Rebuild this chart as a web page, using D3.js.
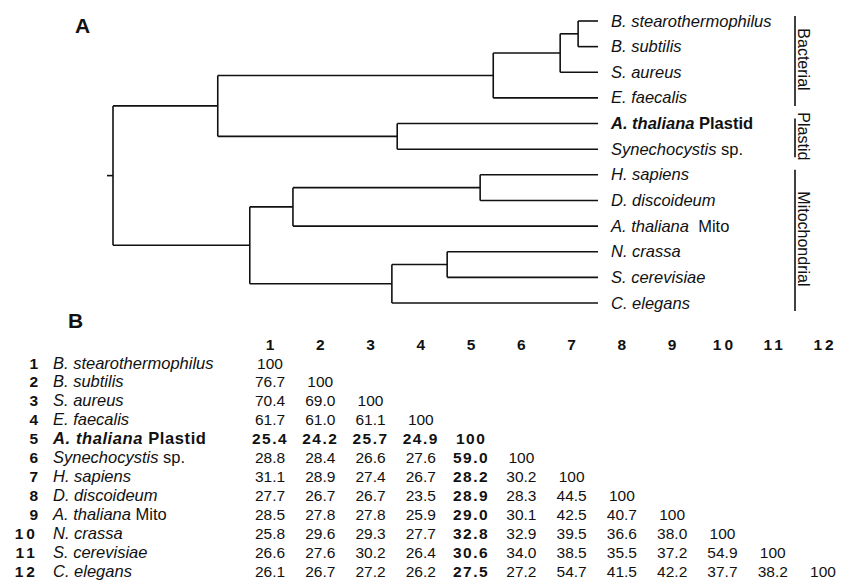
<!DOCTYPE html>
<html>
<head>
<meta charset="utf-8">
<script src="https://cdn.jsdelivr.net/npm/d3@7"></script>
<style>
  body { margin: 0; background: #fff; }
  text { font-family: "Liberation Sans", Arial, Helvetica, sans-serif; fill: #111; }
</style>
</head>
<body>
<div id="chart"></div>
<script>

// taxa: italic part of the name and the plain suffix
var taxaItalic = ["B. stearothermophilus", "B. subtilis", "S. aureus", "E. faecalis",
    "A. thaliana", "Synechocystis", "H. sapiens", "D. discoideum",
    "A. thaliana", "N. crassa", "S. cerevisiae", "C. elegans"];
var taxaSuffix = ["", "", "", "", "Plastid", "sp.", "", "", "Mito", "", "", ""];
var highlight = 4; // A. thaliana Plastid

// tree: h = distance from root (leaves = 100), leaf = index in taxa
var tree = {h: 0, children: [
    {h: 21.6, children: [
        {h: 78.4, children: [
            {h: 92.2, children: [
                {h: 95.9, children: [{leaf: 0}, {leaf: 1}]},
                {leaf: 2}]},
            {leaf: 3}]},
        {h: 58.6, children: [{leaf: 4}, {leaf: 5}]}]},
    {h: 28.2, children: [
        {h: 37.1, children: [
            {h: 75.7, children: [{leaf: 6}, {leaf: 7}]},
            {leaf: 8}]},
        {h: 57.5, children: [
            {h: 68.9, children: [{leaf: 9}, {leaf: 10}]},
            {leaf: 11}]}]}
]};

var groupNames = ["Bacterial", "Plastid", "Mitochondrial"];
var groupFirst = [0, 4, 6];
var groupLast = [3, 5, 11];

// identity matrix (lower triangle, row by row)
var identity = [
    [100],
    [76.7, 100],
    [70.4, 69.0, 100],
    [61.7, 61.0, 61.1, 100],
    [25.4, 24.2, 25.7, 24.9, 100],
    [28.8, 28.4, 26.6, 27.6, 59.0, 100],
    [31.1, 28.9, 27.4, 26.7, 28.2, 30.2, 100],
    [27.7, 26.7, 26.7, 23.5, 28.9, 28.3, 44.5, 100],
    [28.5, 27.8, 27.8, 25.9, 29.0, 30.1, 42.5, 40.7, 100],
    [25.8, 29.6, 29.3, 27.7, 32.8, 32.9, 39.5, 36.6, 38.0, 100],
    [26.6, 27.6, 30.2, 26.4, 30.6, 34.0, 38.5, 35.5, 37.2, 54.9, 100],
    [26.1, 26.7, 27.2, 26.2, 27.5, 27.2, 54.7, 41.5, 42.2, 37.7, 38.2, 100]
];
var colLabels = ["1", "2", "3", "4", "5", "6", "7", "8", "9", "10", "11", "12"];

var width = 842;
var height = 581;

var svg = d3.select('#chart')
    .append('svg')
        .attr('width', width)
        .attr('height', height);

/** Panel A: tree */
var root = d3.hierarchy(tree);

var x = d3.scaleLinear()
    .domain([0, 100])
    .range([113, 598]);

var y = d3.scalePoint()
    .domain(d3.range(taxaItalic.length))
    .range([21, 303]);

// leaf y from scale, internal nodes at middle of first and last child
root.eachAfter(function(n) {
    if (n.children) {
        n.px = x(n.data.h);
        n.py = (n.children[0].py + n.children[n.children.length - 1].py) / 2;
    } else {
        n.px = x(100);
        n.py = y(n.data.leaf);
    }
});

var treeG = svg.append('g')
    .attr('fill', 'none')
    .attr('stroke', '#111')
    .attr('stroke-width', 1.6);

var line = d3.line();

root.descendants().filter(function(n) { return n.children; }).forEach(function(n) {
    var first = n.children[0];
    var last = n.children[n.children.length - 1];
    treeG.append('path')
        .attr('d', line([[n.px, first.py], [n.px, last.py]]));
    n.children.forEach(function(c) {
        treeG.append('path')
            .attr('d', line([[n.px, c.py], [c.px, c.py]]));
    });
});

// root stub
treeG.append('path')
    .attr('d', line([[root.px - 6, root.py], [root.px, root.py]]));

// leaf labels
var leafText = svg.append('g')
    .selectAll('text')
    .data(root.leaves())
    .enter().append('text')
        .attr('x', 611)
        .attr('y', function(d) { return d.py + 5.5; })
        .attr('font-size', 16.5)
        .attr('font-weight', function(d) { return d.data.leaf === highlight ? 'bold' : null; });

leafText.append('tspan')
    .attr('font-style', 'italic')
    .text(function(d) { return taxaItalic[d.data.leaf]; });

leafText.append('tspan')
    .text(function(d) {
        var s = taxaSuffix[d.data.leaf];
        if (!s) return '';
        return (d.data.leaf === 8 ? '\u00a0 ' : ' ') + s;
    });

// group brackets
groupNames.forEach(function(g, i) {
    var y0 = y(groupFirst[i]) - 5;
    var y1 = y(groupLast[i]) + 8;
    treeG.append('path')
        .attr('d', line([[795, y0], [795, y1]]));
    var ym = (y(groupFirst[i]) + y(groupLast[i])) / 2;
    svg.append('text')
        .attr('transform', 'translate(798,' + ym + ') rotate(90)')
        .attr('text-anchor', 'middle')
        .attr('font-size', 16)
        .text(g);
});

svg.append('text')
    .attr('x', 75)
    .attr('y', 33)
    .attr('font-size', 21)
    .attr('font-weight', 'bold')
    .text('A');

/** Panel B: identity table */
svg.append('text')
    .attr('x', 68)
    .attr('y', 328)
    .attr('font-size', 21)
    .attr('font-weight', 'bold')
    .text('B');

var col = d3.scalePoint()
    .domain(d3.range(12))
    .range([270, 823]);

var row = d3.scalePoint()
    .domain(d3.range(12))
    .range([363, 571]);

var fmt = function(v) { return v === 100 ? '100' : d3.format('.1f')(v); };

var table = svg.append('g')
    .attr('font-size', 15.5);

table.selectAll('.colhead')
    .data(colLabels)
    .enter().append('text')
        .attr('class', 'colhead')
        .attr('x', function(d, i) { return col(i) + (d.length > 1 ? 2 : 0); })
        .attr('y', 350)
        .attr('text-anchor', 'middle')
        .attr('font-weight', 'bold')
        .attr('letter-spacing', function(d) { return d.length > 1 ? 3 : 0; })
        .text(function(d) { return d; });

table.selectAll('.rownum')
    .data(colLabels)
    .enter().append('text')
        .attr('class', 'rownum')
        .attr('x', 38)
        .attr('y', function(d, i) { return row(i) + 5.5; })
        .attr('text-anchor', 'end')
        .attr('font-weight', 'bold')
        .attr('letter-spacing', function(d) { return d.length > 1 ? 3 : 0; })
        .text(function(d) { return d; });

var names = table.selectAll('.name')
    .data(taxaItalic)
    .enter().append('text')
        .attr('class', 'name')
        .attr('x', 53)
        .attr('y', function(d, i) { return row(i) + 5.5; })
        .attr('font-size', 16.5)
        .attr('font-weight', function(d, i) { return i === highlight ? 'bold' : null; })
        .attr('letter-spacing', function(d, i) { return i === highlight ? 0.6 : 0; });

names.append('tspan')
    .attr('font-style', 'italic')
    .text(function(d) { return d; });

names.append('tspan')
    .text(function(d, i) { return taxaSuffix[i] ? ' ' + taxaSuffix[i] : ''; });

identity.forEach(function(vals, r) {
    table.selectAll('.v' + r)
        .data(vals)
        .enter().append('text')
            .attr('x', function(d, c) { return col(c); })
            .attr('y', row(r) + 5.5)
            .attr('text-anchor', 'middle')
            .attr('font-weight', function(d, c) { return (r === highlight || c === highlight) ? 'bold' : null; })
            .attr('letter-spacing', function(d, c) { return (r === highlight || c === highlight) ? 1.5 : 0; })
            .text(fmt);
});

</script>
</body>
</html>
